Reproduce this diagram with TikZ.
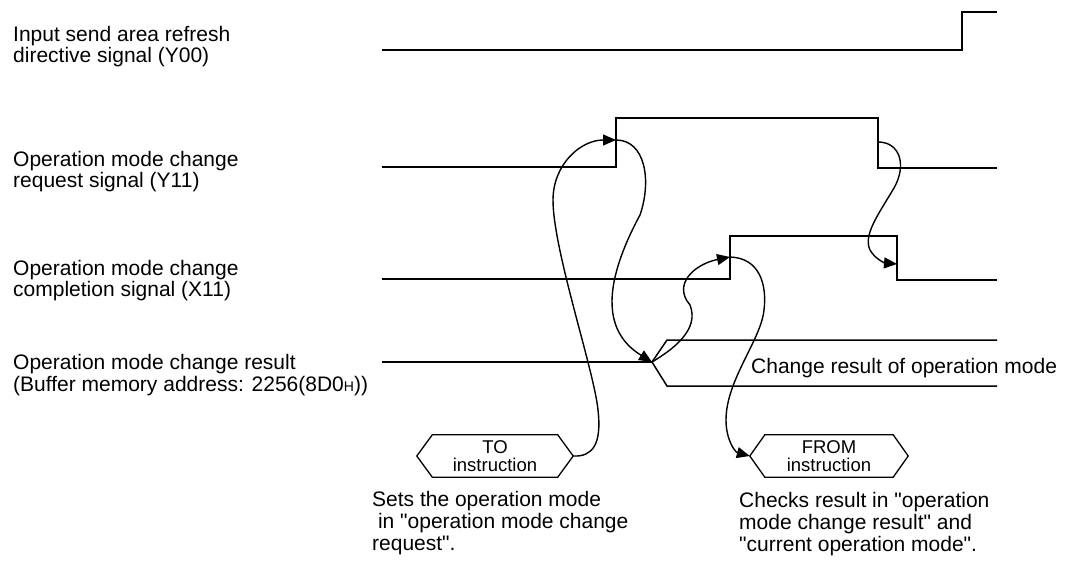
\documentclass[tikz,border=0pt]{standalone}
\usepackage{fontspec}
\setmainfont{Liberation Sans}
\newfontfamily\af{Liberation Sans}
\usetikzlibrary{arrows.meta,calc}
\begin{document}
\begin{tikzpicture}[x=1pt,y=-1pt,
  sig/.style={line width=1.5pt, line join=miter},
  flow/.style={line width=1.4pt, -{Triangle[length=13pt,width=11pt]}},
  lbl/.style={anchor=north west, inner sep=0pt, align=left, font=\af\fontsize{21}{21}\selectfont},
  note/.style={anchor=north west, inner sep=0pt, align=left, font=\af\fontsize{21}{22}\selectfont},
  instr/.style={inner sep=0pt, minimum width=156pt, minimum height=42pt, align=center, font=\af\fontsize{18.5}{18}\selectfont},
  hexa/.style={line width=1.3pt, line join=miter}]
\useasboundingbox (0,0) rectangle (1073,567);

% left labels
\node[lbl] (l1) at (13,26) {Input send area refresh\\directive signal (Y00)};
\node[lbl] (l2) at (13,151) {Operation mode change\\request signal (Y11)};
\node[lbl] (l3) at (13,260) {Operation mode change\\completion signal (X11)};
\node[note] (l4) at (13,354) {Operation mode change result\\(Buffer memory address: 2256(8D0{\fontsize{14}{14}\selectfont H}))};

% signals
\draw[sig] (382,50) -- (962,50) -- (962,12) -- (997,12);
\draw[sig] (382,167) -- (616,167) -- (616,118) -- (878,118) -- (878,168) -- (997,168);
\draw[sig] (382,279) -- (730,279) -- (730,236) -- (897,236) -- (897,280) -- (997,280);
\draw[sig] (382,362) -- (652,362);
\draw[sig] (997,340) -- (667,340) -- (652,362) -- (667,386) -- (997,386);
\node[anchor=north west, inner sep=0pt, font=\af\fontsize{21}{21}\selectfont] (chg) at (751,358) {Change result of operation mode};

% event points
\coordinate (y11r) at (616,140);
\coordinate (y11f) at (878,142);
\coordinate (x11r) at (730,257);
\coordinate (x11f) at (897,264);
\coordinate (res) at (652,362);

% instruction boxes
\node[instr] (to) at (495,456) {TO\\instruction};
\draw[hexa] (to.west) -- ($(to.north west)+(15.5,0)$) -- ($(to.north east)+(-15.5,0)$) -- (to.east) -- ($(to.south east)+(-15.5,0)$) -- ($(to.south west)+(15.5,0)$) -- cycle;
\node[instr, minimum width=158pt] (from) at (829,456) {FROM\\instruction};
\draw[hexa] (from.west) -- ($(from.north west)+(15,0)$) -- ($(from.north east)+(-15,0)$) -- (from.east) -- ($(from.south east)+(-15,0)$) -- ($(from.south west)+(15,0)$) -- cycle;

% notes below
\node[note] (n1) at (372,491) {Sets the operation mode\\\hspace*{0.28em}in "operation mode change\\request".};
\node[note] (n2) at (739,492) {Checks result in "operation\\mode change result" and\\"current operation mode".};

% flow arrows
\draw[flow] (to.east) .. controls (592,457) and (602,445) .. (598,410)
  .. controls (594,370) and (553,250) .. (553,200)
  .. controls (553,165) and (580,140) .. (y11r);
\draw[flow] (y11r) .. controls (645,140) and (652,180) .. (640,215)
  .. controls (605,280) and (600,330) .. (res);
\draw[flow] (res) .. controls (672,350) and (700,330) .. (690,305)
  .. controls (672,284) and (695,264) .. (x11r);
\draw[flow] (x11r) .. controls (760,258) and (767,285) .. (764,310)
  .. controls (761,340) and (726,380) .. (726,420)
  .. controls (726,440) and (735,452) .. (from.west);
\draw[flow] (y11f) .. controls (900,142) and (907,165) .. (894,188)
  .. controls (878,215) and (863,235) .. (870,250)
  .. controls (875,259) and (885,263) .. (x11f);
\end{tikzpicture}
\end{document}
